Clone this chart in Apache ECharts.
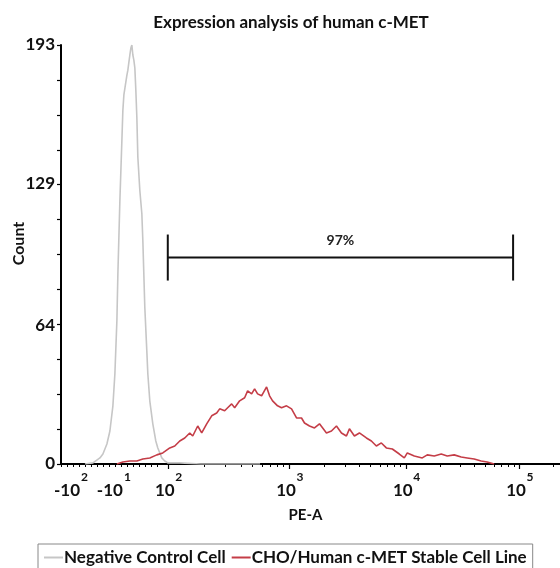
<!DOCTYPE html>
<html>
<head>
<meta charset="utf-8">
<script src="https://cdn.jsdelivr.net/npm/echarts@6/dist/echarts.min.js"></script>
<style>
html,body{margin:0;padding:0;background:#fff;}
#c{width:560px;height:568px;}
</style>
</head>
<body>
<div id="c"></div>
<script>
// ---- data (x in display channels 0..1000 of the biexponential PE-A scale) ----
const titleText = 'Expression analysis of human c-MET';
const seriesNames = ['Negative Control Cell', 'CHO/Human c-MET Stable Cell Line'];
const xTickChannels = [20, 106, 214, 457, 691, 918];
const xTickBase = ['-10', '-10', '10', '10', '10', '10'];
const xTickExp = ['2', '1', '2', '3', '4', '5'];
const yLabelValues = [0, 64, 129, 193];
const yMax = 193;

const negControlX = [48, 64, 78, 84, 92, 98, 104, 108, 112, 114, 118, 122, 124, 126, 128, 132, 134, 136, 138, 140, 142, 144, 146, 148, 150, 152, 154, 158, 162, 164, 168, 172, 174, 178, 184, 190, 194, 202, 208, 214, 238, 279, 399];
const negControlY = [0, 0.5, 2.8, 4.6, 9.2, 15.2, 26.8, 41.6, 66, 87.7, 121.4, 149, 163, 170, 173, 179, 181.4, 185, 188.4, 191.6, 193, 188.4, 186, 182.4, 172, 159.7, 141.3, 126, 115.4, 103, 72, 52, 41.6, 29, 18.5, 10.6, 7.4, 2.8, 1.4, 0.5, 0.5, 0, 0];

const cmetX = [112, 124, 138, 152, 164, 178, 192, 204, 218, 228, 238, 248, 258, 264, 274, 282, 292, 302, 312, 318, 328, 334, 342, 348, 358, 368, 374, 382, 388, 394, 402, 412, 418, 424, 434, 442, 452, 462, 472, 482, 488, 498, 508, 518, 532, 542, 552, 562, 572, 578, 588, 598, 612, 622, 632, 642, 652, 664, 678, 688, 694, 708, 724, 734, 748, 762, 774, 788, 802, 814, 828, 842, 854, 868];
const cmetY = [0, 0.9, 1.4, 1.4, 2.3, 2.8, 4.2, 5.1, 7.4, 8.3, 10.6, 12.0, 14.3, 12.9, 17.5, 14.3, 18.5, 22.2, 23.5, 25.4, 24.5, 25.9, 27.7, 25.9, 29.1, 30.5, 33.7, 32.3, 34.6, 32.3, 31.4, 35.5, 31.4, 29.1, 26.8, 25.9, 26.8, 25.4, 21.2, 21.2, 18.9, 17.5, 16.6, 18.5, 14.3, 15.2, 17.5, 14.3, 12.9, 16.2, 12.9, 14.3, 12.0, 10.6, 8.3, 9.7, 7.4, 6.9, 4.6, 2.8, 5.1, 3.7, 2.8, 4.2, 3.7, 4.6, 3.7, 4.2, 3.2, 2.8, 2.3, 1.4, 0.9, 0];

const gateStart = 214;   // 10^2
const gateEnd = 906;     // just below 10^5
const gateLevel = 95.1;
const gateHalf = 10.6;
const gateLabel = '97%';

// ---- build ----
const pairs = (xs, ys) => xs.map((x, i) => [x, ys[i]]);

// minor ticks (axis decoration only)
const minorTicks = [];
for (let c = 0; c <= 200; c += 12) minorTicks.push(c);
for (let d = 2; d < 5; d++) {
  const a = xTickChannels[d], b = xTickChannels[d + 1];
  for (let k = 2; k <= 9; k++) minorTicks.push(a + (b - a) * Math.log10(k));
}
{
  const a = xTickChannels[5], w = xTickChannels[5] - xTickChannels[4];
  for (let k = 2; k <= 3; k++) minorTicks.push(a + w * Math.log10(k));
}
const yTicks = [];
for (let k = 0; k <= 12; k++) yTicks.push(yMax * k / 12);

const FONT = 'Lato';

const chart = echarts.init(document.getElementById('c'), null, { renderer: 'canvas' });
chart.setOption({
  backgroundColor: '#fff',
  animation: false,
  title: {
    text: titleText,
    left: 286, top: 9, textAlign: 'center',
    textStyle: { fontFamily: FONT, fontWeight: 'bold', fontSize: 17, color: '#111' }
  },
  grid: { left: 61, right: 0, top: 45, bottom: 104, containLabel: false, outerBoundsMode: 'none' },
  legend: {
    data: seriesNames,
    left: 38, top: 544,
    padding: [5, 6, 8, 6],
    borderColor: '#888', borderWidth: 1, borderRadius: 0,
    icon: 'rect', itemWidth: 19, itemHeight: 2, itemGap: 6,
    textStyle: { fontFamily: FONT, fontWeight: 'bold', fontSize: 17, color: '#111', padding: [0, 0, 0, -4] }
  },
  xAxis: [{
    type: 'value', min: 0, max: 1000, position: 'bottom',
    name: 'PE-A', nameLocation: 'middle', nameGap: 44,
    nameTextStyle: { fontFamily: FONT, fontWeight: 'bold', fontSize: 15, color: '#111', padding: [0, 10, 0, 0] },
    axisLine: { onZero: false, lineStyle: { color: '#000', width: 2 } },
    splitLine: { show: false },
    axisTick: { show: true, customValues: xTickChannels.slice(2), length: 5, lineStyle: { color: '#000', width: 1.2 } },
    axisLabel: {
      customValues: xTickChannels,
      margin: 7,
      formatter: function (v) {
        const i = xTickChannels.findIndex(c => Math.abs(c - v) < 0.5);
        if (i < 0) return '';
        const neg = xTickBase[i].charAt(0) === '-';
        return '{' + (neg ? 'sn' : 's') + '|' + xTickExp[i] + '}\n{' + (neg ? 'bn' : 'b') + '|' + xTickBase[i] + '}';
      },
      rich: {
        b: { fontFamily: FONT, fontWeight: 'bold', fontSize: 17, lineHeight: 16, color: '#111', padding: [0, 6, 0, 0] },
        bn: { fontFamily: FONT, fontWeight: 'bold', fontSize: 17, lineHeight: 16, color: '#111', padding: [0, 8, 0, 0] },
        s: { fontFamily: FONT, fontWeight: 'bold', fontSize: 12, lineHeight: 12, color: '#111', padding: [0, 0, 0, 22] },
        sn: { fontFamily: FONT, fontWeight: 'bold', fontSize: 12, lineHeight: 12, color: '#111', padding: [0, 0, 0, 27] }
      }
    }
  }, {
    type: 'value', min: 0, max: 1000, position: 'bottom',
    axisLine: { show: false, onZero: false },
    splitLine: { show: false },
    axisLabel: { show: false },
    axisTick: { show: true, customValues: minorTicks, length: 3, lineStyle: { color: '#000', width: 1 } }
  }],
  yAxis: {
    type: 'value', min: 0, max: yMax,
    name: 'Count', nameLocation: 'middle', nameGap: 34, nameMoveOverlap: false,
    nameTextStyle: { fontFamily: FONT, fontWeight: 'bold', fontSize: 16, color: '#111', padding: [0, 0, 0, 22] },
    axisLine: { show: true, lineStyle: { color: '#000', width: 2 } },
    splitLine: { show: false },
    axisTick: { show: true, customValues: yTicks, length: 4, lineStyle: { color: '#000', width: 1.2 } },
    axisLabel: {
      customValues: yLabelValues, margin: 6,
      fontFamily: FONT, fontWeight: 'bold', fontSize: 17, color: '#111'
    }
  },
  series: [{
    name: seriesNames[0], type: 'line', xAxisIndex: 0,
    data: pairs(negControlX, negControlY),
    symbol: 'none', smooth: false,
    lineStyle: { color: '#c6c6c6', width: 1.6 },
    itemStyle: { color: '#c6c6c6' }
  }, {
    name: seriesNames[1], type: 'line', xAxisIndex: 0,
    data: pairs(cmetX, cmetY),
    symbol: 'none', smooth: false,
    lineStyle: { color: '#c43d47', width: 1.6 },
    itemStyle: { color: '#c43d47' }
  }, {
    type: 'custom', xAxisIndex: 0, clip: false, silent: true,
    data: [[gateStart, gateEnd, gateLevel, gateHalf]],
    renderItem: function (params, api) {
      const s = api.value(0), e = api.value(1), y = api.value(2), h = api.value(3);
      const p1 = api.coord([s, y]), p2 = api.coord([e, y]);
      const top = api.coord([s, y + h])[1], bot = api.coord([s, y - h])[1];
      const ls = { stroke: '#111', lineWidth: 2 };
      return {
        type: 'group',
        children: [
          { type: 'line', shape: { x1: p1[0], y1: p1[1], x2: p2[0], y2: p2[1] }, style: ls },
          { type: 'line', shape: { x1: p1[0], y1: top, x2: p1[0], y2: bot }, style: ls },
          { type: 'line', shape: { x1: p2[0], y1: top, x2: p2[0], y2: bot }, style: ls },
          { type: 'text', x: (p1[0] + p2[0]) / 2, y: p1[1] - 17,
            style: { text: gateLabel, fill: '#222', font: 'bold 14px ' + FONT, textAlign: 'center', textVerticalAlign: 'middle' } }
        ]
      };
    }
  }]
});
</script>
</body>
</html>
